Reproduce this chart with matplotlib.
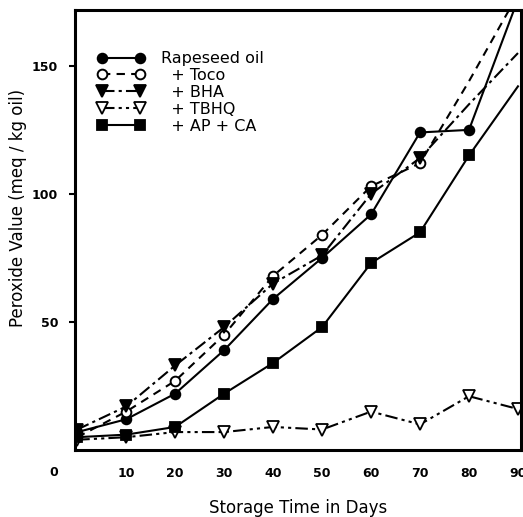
import matplotlib
matplotlib.use("Agg")
import matplotlib.pyplot as plt
from matplotlib.lines import Line2D

days = [0, 10, 20, 30, 40, 50, 60, 70, 80, 90]
rapeseed = [7, 12, 22, 39, 59, 75, 92, 124, 125, 176]
toco = [5, 15, 27, 45, 68, 84, 103, 112, 144, 178]
bha = [8, 17, 33, 48, 65, 76, 100, 114, 135, 155]
tbhq = [4, 5, 7, 7, 9, 8, 15, 10, 21, 16]
apca = [5, 6, 9, 22, 34, 48, 73, 85, 115, 142]
labels = ["Rapeseed oil", "  + Toco", "  + BHA", "  + TBHQ", "  + AP + CA"]
xticks = [10, 20, 30, 40, 50, 60, 70, 80, 90]
yticks = [50, 100, 150]

plt.rcParams['font.family'] = ['DejaVu Sans']
fig = plt.figure(figsize=(5.23, 5.17), dpi=100)
ax = fig.add_axes([0.143, 0.1296, 0.853, 0.852])

ms = 7
lw = 1.5
styles = [
    dict(ls='-', marker='o', ms=ms, mfc='black', mew=1.3),
    dict(ls=(0, (4, 3)), marker='o', ms=ms, mfc='white', mew=1.4),
    dict(ls=(0, (6, 2, 1.5, 2)), marker='v', ms=ms + 1, mfc='black', mew=1.3),
    dict(ls=(0, (6, 2, 1.5, 2, 1.5, 2)), marker='v', ms=ms + 1, mfc='white', mew=1.3),
    dict(ls='-', marker='s', ms=ms, mfc='black', mew=1.3),
]
series = [rapeseed, toco, bha, tbhq, apca]
marks = [list(range(9)), list(range(8)), list(range(8)), list(range(10)), list(range(9))]

handles = []
for vals, st, mk, lab in zip(series, styles, marks, labels):
    ax.plot(days, vals, color='black', lw=lw, markevery=mk, **st)
    handles.append(Line2D([0, 1], [0, 0], color='black', lw=lw, **st, label=lab))

ax.set_xlim(-0.5, 90.6)
ax.set_ylim(0, 172)
ax.set_xticks(xticks)
ax.set_yticks(yticks)
ax.tick_params(axis='x', length=0, pad=12, labelsize=9)
ax.tick_params(axis='y', length=4, width=1.5, direction='out', pad=8, labelsize=9)
for lab in ax.get_xticklabels() + ax.get_yticklabels():
    lab.set_fontweight('bold')
ax.text(-4.7, -8.8, "0", ha='center', va='center', fontsize=9, fontweight='bold',
        transform=ax.transData, clip_on=False)
for s in ax.spines.values():
    s.set_linewidth(2.2)

ax.set_xlabel("Storage Time in Days", fontsize=12, labelpad=14)
ax.set_ylabel("Peroxide Value (meq / kg oil)", fontsize=12)
ax.yaxis.set_label_coords(-0.108, 0.55)

ax.legend(handles=handles, loc='upper left', bbox_to_anchor=(0.035, 0.92), frameon=False,
          fontsize=11.5, handlelength=3.0, handletextpad=1.0, numpoints=2,
          labelspacing=0.12, borderaxespad=0)

fig.savefig("out.png", dpi=100)
